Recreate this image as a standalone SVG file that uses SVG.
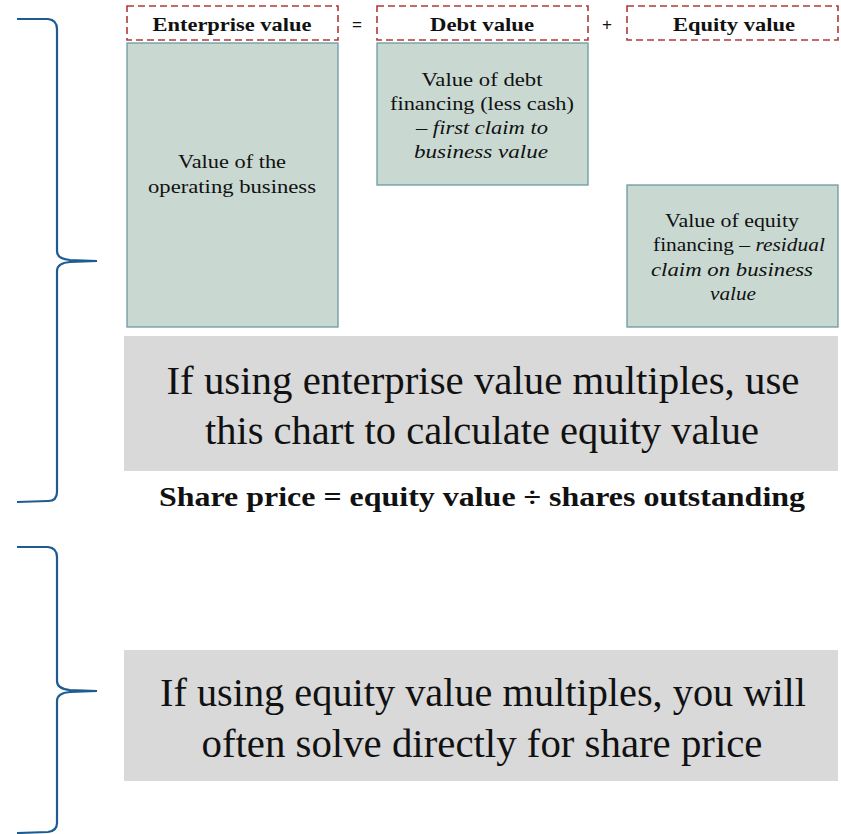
<svg xmlns="http://www.w3.org/2000/svg" width="841" height="834" viewBox="0 0 841 834" font-family="Liberation Serif, serif">
  <style>
    .hdr { fill: #ffffff; stroke: #b03a3a; stroke-width: 1.6; stroke-dasharray: 7 4; }
    .blk { fill: #c9d9d2; stroke: #6a9aa2; stroke-width: 1.3; }
    .band { fill: #d9d9d9; }
    .brace { fill: none; stroke: #1d5b91; stroke-width: 2.2; }
    .t { fill: #111111; text-anchor: middle; }
    .ht { font-size: 19.5px; font-weight: bold; }
    .op { font-size: 17px; fill: #111111; text-anchor: middle; }
    .bt { font-size: 18.5px; }
    .big { font-size: 39px; }
    .eq { font-size: 28px; font-weight: bold; }
  </style>

  <!-- braces -->
  <g id="braces">
    <path class="brace" d="M17,19 L48,19 Q57,20 57,29 L57,251 Q57,259 70,260 L97,261 L70,262 Q57,263 57,271 L57,492 Q57,501 48,501 L17,502"/>
    <path class="brace" d="M17,547 L48,547 Q57,548 57,557 L57,681 Q57,689 70,690 L97,691 L70,692 Q57,693 57,701 L57,823 Q57,831 48,832 L17,833"/>
  </g>

  <!-- header row -->
  <g id="hdr-enterprise">
    <rect class="hdr" x="127" y="6" width="211" height="34"/>
    <text class="t ht" x="232" y="31" textLength="159" lengthAdjust="spacingAndGlyphs">Enterprise value</text>
  </g>
  <text class="op" x="357" y="30" font-family="Liberation Sans, sans-serif">=</text>
  <g id="hdr-debt">
    <rect class="hdr" x="377" y="6" width="211" height="34"/>
    <text class="t ht" x="482" y="31" textLength="104" lengthAdjust="spacingAndGlyphs">Debt value</text>
  </g>
  <text class="op" x="607" y="30" font-family="Liberation Sans, sans-serif">+</text>
  <g id="hdr-equity">
    <rect class="hdr" x="627" y="6" width="211" height="34"/>
    <text class="t ht" x="734" y="31" textLength="122" lengthAdjust="spacingAndGlyphs">Equity value</text>
  </g>

  <!-- value blocks -->
  <g id="blk-operating">
    <rect class="blk" x="127" y="43" width="211" height="284"/>
    <text class="t bt" x="232" y="168" textLength="108" lengthAdjust="spacingAndGlyphs">Value of the</text>
    <text class="t bt" x="232" y="193" textLength="168" lengthAdjust="spacingAndGlyphs">operating business</text>
  </g>
  <g id="blk-debt">
    <rect class="blk" x="377" y="43" width="211" height="142"/>
    <text class="t bt" x="482" y="86" textLength="121" lengthAdjust="spacingAndGlyphs">Value of debt</text>
    <text class="t bt" x="482" y="110" textLength="184" lengthAdjust="spacingAndGlyphs">financing (less cash)</text>
    <text class="t bt" x="482" y="134" textLength="132" lengthAdjust="spacingAndGlyphs"><tspan>– </tspan><tspan font-style="italic">first claim to</tspan></text>
    <text class="t bt" x="481" y="158" font-style="italic" textLength="134" lengthAdjust="spacingAndGlyphs">business value</text>
  </g>
  <g id="blk-equity">
    <rect class="blk" x="627" y="185" width="211" height="142"/>
    <text class="t bt" x="732" y="227" textLength="134" lengthAdjust="spacingAndGlyphs">Value of equity</text>
    <text class="t bt" x="739" y="251" textLength="172" lengthAdjust="spacingAndGlyphs">financing <tspan>– </tspan><tspan font-style="italic">residual</tspan></text>
    <text class="t bt" x="732" y="276" font-style="italic" textLength="162" lengthAdjust="spacingAndGlyphs">claim on business</text>
    <text class="t bt" x="733" y="300" font-style="italic" textLength="46" lengthAdjust="spacingAndGlyphs">value</text>
  </g>

  <!-- notes -->
  <g id="note-ev">
    <rect class="band" x="124" y="336" width="714" height="135"/>
    <text class="t big" x="483" y="394" textLength="633" lengthAdjust="spacingAndGlyphs">If using enterprise value multiples, use</text>
    <text class="t big" x="482" y="444" textLength="554" lengthAdjust="spacingAndGlyphs">this chart to calculate equity value</text>
  </g>
  <text class="t eq" x="482" y="506" textLength="646" lengthAdjust="spacingAndGlyphs">Share price = equity value ÷ shares outstanding</text>
  <g id="note-equity">
    <rect class="band" x="124" y="650" width="714" height="131"/>
    <text class="t big" x="483" y="706" textLength="646" lengthAdjust="spacingAndGlyphs">If using equity value multiples, you will</text>
    <text class="t big" x="482" y="757" textLength="561" lengthAdjust="spacingAndGlyphs">often solve directly for share price</text>
  </g>
</svg>
